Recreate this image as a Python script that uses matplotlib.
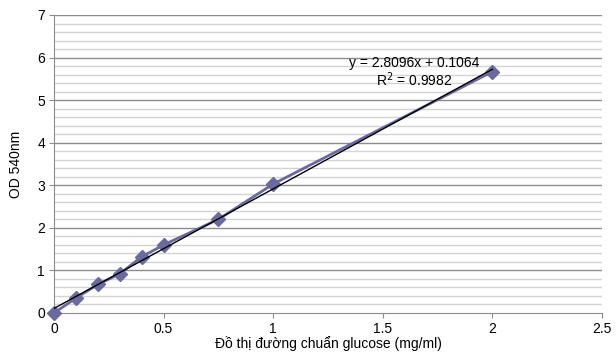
import matplotlib.pyplot as plt
import numpy as np

plt.rcParams['font.family'] = ['Liberation Sans', 'DejaVu Sans']

# Dữ liệu đường chuẩn glucose
conc = [0, 0.1, 0.2, 0.3, 0.4, 0.5, 0.75, 1.0, 2.0]
od = [0.0, 0.35, 0.67, 0.92, 1.32, 1.60, 2.20, 3.03, 5.67]
slope = 2.8096
intercept = 0.1064
r2 = 0.9982

fig = plt.figure(figsize=(6.16, 3.55), dpi=100)
ax = fig.add_axes([54 / 616, 1 - 313 / 355, 548 / 616, 298 / 355])

# grid
for y in np.arange(0.2, 7.01, 0.2):
    major = abs(y - round(y)) < 1e-6
    ax.axhline(y, color='#8c8c8c' if major else '#d4d4d4', linewidth=1.0, zorder=0)

ax.plot(conc, od, color='#6a6a9f', linewidth=2, marker='D', markersize=7,
        markerfacecolor='#6a6a9f', markeredgecolor='#6a6a9f', zorder=3, clip_on=False)

xs = np.array([0, 2.0])
ax.plot(xs, slope * xs + intercept, color='black', linewidth=1, zorder=4)

ax.text(1.645, 5.88, f"y = {slope}x + {intercept}", ha='center', va='center', fontsize=10)
ax.text(1.645, 5.48, f"R$^2$ = {r2}", ha='center', va='center', fontsize=10)

ax.set_xlim(0, 2.5)
ax.set_ylim(0, 7)
ax.set_xticks([0, 0.5, 1, 1.5, 2, 2.5])
ax.set_xticklabels(['0', '0.5', '1', '1.5', '2', '2.5'])
ax.set_yticks(range(0, 8))
ax.tick_params(labelsize=10, length=3.5, color='#8c8c8c', direction='out', pad=3)
for s in ['top', 'right']:
    ax.spines[s].set_visible(False)
for s in ['left', 'bottom']:
    ax.spines[s].set_color('#8c8c8c')

ax.set_xlabel("Đồ thị đường chuẩn glucose (mg/ml)", fontsize=10, labelpad=0)
ax.set_ylabel("OD 540nm", fontsize=10, labelpad=10)

fig.savefig('out.png', dpi=100)
